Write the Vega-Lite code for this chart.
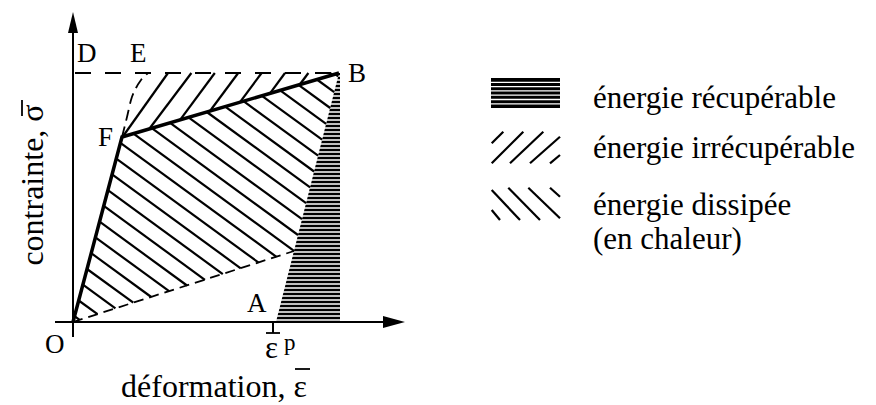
{
  "$schema": "https://vega.github.io/schema/vega-lite/v6.json",
  "width": 876,
  "height": 405,
  "autosize": {"type": "none"},
  "padding": 0,
  "background": "white",
  "config": {"view": {"stroke": null}, "text": {"font": "Liberation Serif", "color": "black"}},
  "datasets": {
    "r1": [{"v": 0, "u": 203, "u2": 267}, {"v": 249, "u": 266, "u2": 267}],
    "sw1": [{"u": 418, "u2": 487, "v": 214, "v2": 244}],
    "stripes": [{"v":2,"u":200,"u2":268},{"v":6,"u":200,"u2":268},{"v":10,"u":200,"u2":268},{"v":14,"u":200,"u2":268},{"v":18,"u":200,"u2":268},{"v":22,"u":200,"u2":268},{"v":26,"u":200,"u2":268},{"v":30,"u":200,"u2":268},{"v":34,"u":200,"u2":268},{"v":38,"u":200,"u2":268},{"v":42,"u":200,"u2":268},{"v":46,"u":200,"u2":268},{"v":50,"u":200,"u2":268},{"v":54,"u":200,"u2":268},{"v":58,"u":200,"u2":268},{"v":62,"u":200,"u2":268},{"v":66,"u":200,"u2":268},{"v":70,"u":200,"u2":268},{"v":74,"u":200,"u2":268},{"v":78,"u":200,"u2":268},{"v":82,"u":200,"u2":268},{"v":86,"u":200,"u2":268},{"v":90,"u":200,"u2":268},{"v":94,"u":200,"u2":268},{"v":98,"u":200,"u2":268},{"v":102,"u":200,"u2":268},{"v":106,"u":200,"u2":268},{"v":110,"u":200,"u2":268},{"v":114,"u":200,"u2":268},{"v":118,"u":200,"u2":268},{"v":122,"u":200,"u2":268},{"v":126,"u":200,"u2":268},{"v":130,"u":200,"u2":268},{"v":134,"u":200,"u2":268},{"v":138,"u":200,"u2":268},{"v":142,"u":200,"u2":268},{"v":146,"u":200,"u2":268},{"v":150,"u":200,"u2":268},{"v":154,"u":200,"u2":268},{"v":158,"u":200,"u2":268},{"v":162,"u":200,"u2":268},{"v":166,"u":200,"u2":268},{"v":170,"u":200,"u2":268},{"v":174,"u":200,"u2":268},{"v":178,"u":200,"u2":268},{"v":182,"u":200,"u2":268},{"v":186,"u":200,"u2":268},{"v":190,"u":200,"u2":268},{"v":194,"u":200,"u2":268},{"v":198,"u":200,"u2":268},{"v":202,"u":200,"u2":268},{"v":206,"u":200,"u2":268},{"v":210,"u":200,"u2":268},{"v":214,"u":200,"u2":268},{"v":218,"u":200,"u2":268},{"v":222,"u":200,"u2":268},{"v":226,"u":200,"u2":268},{"v":230,"u":200,"u2":268},{"v":234,"u":200,"u2":268},{"v":238,"u":200,"u2":268},{"v":242,"u":200,"u2":268},{"v":246,"u":200,"u2":268},
      {"v":239.7,"u":417,"u2":488},{"v":235.4,"u":417,"u2":488},{"v":231.1,"u":417,"u2":488},{"v":226.8,"u":417,"u2":488},{"v":222.5,"u":417,"u2":488},{"v":218.2,"u":417,"u2":488}],
    "hatch": [
      {"u":262.2,"v":247.9,"u2":265.2,"v2":245.7},
      {"u":243.9,"v":242.5,"u2":261.2,"v2":229.9},
      {"u":225.5,"v":237.1,"u2":257.2,"v2":214.0},
      {"u":207.2,"v":231.7,"u2":253.1,"v2":198.1},
      {"u":188.9,"v":226.2,"u2":249.1,"v2":182.3},
      {"u":170.5,"v":220.8,"u2":245.1,"v2":166.4},
      {"u":152.2,"v":215.4,"u2":241.1,"v2":150.5},
      {"u":133.8,"v":210.0,"u2":237.1,"v2":134.6},
      {"u":115.5,"v":204.6,"u2":233.1,"v2":118.8},
      {"u":97.1,"v":199.2,"u2":229.0,"v2":102.9},
      {"u":78.8,"v":193.8,"u2":225.0,"v2":87.0},
      {"u":60.5,"v":188.4,"u2":221.0,"v2":71.2},
      {"u":47.4,"v":179.1,"u2":203.5,"v2":65.1},
      {"u":43.3,"v":163.3,"u2":185.6,"v2":59.4},
      {"u":39.1,"v":147.6,"u2":167.7,"v2":53.7},
      {"u":34.9,"v":131.8,"u2":149.8,"v2":47.9},
      {"u":30.8,"v":116.1,"u2":131.9,"v2":42.2},
      {"u":26.6,"v":100.3,"u2":114.0,"v2":36.5},
      {"u":22.4,"v":84.6,"u2":96.1,"v2":30.8},
      {"u":18.2,"v":68.8,"u2":78.2,"v2":25.0},
      {"u":14.0,"v":53.0,"u2":60.3,"v2":19.3},
      {"u":9.9,"v":37.3,"u2":42.4,"v2":13.6},
      {"u":5.7,"v":21.5,"u2":24.5,"v2":7.8},
      {"u":1.5,"v":5.8,"u2":6.6,"v2":2.1},
      {"u":49.5,"v":185,"u2":95,"v2":249},
      {"u":76.2,"v":193,"u2":118.4,"v2":249},
      {"u":107.1,"v":202.1,"u2":141.8,"v2":249},
      {"u":137,"v":211,"u2":165.2,"v2":249},
      {"u":167,"v":219.8,"u2":188.6,"v2":249},
      {"u":197,"v":228.7,"u2":212,"v2":249},
      {"u":226.8,"v":237.5,"u2":235.4,"v2":249},
      {"u":256.7,"v":246.4,"u2":258.8,"v2":249},
      {"u":418.7,"v":178.7,"u2":430.3,"v2":190.3},
      {"u":418.7,"v":158.7,"u2":450.3,"v2":190.3},
      {"u":437,"v":158.7,"u2":470.3,"v2":190.3},
      {"u":457,"v":158.7,"u2":487,"v2":185.3},
      {"u":477,"v":158.7,"u2":487,"v2":167},
      {"u":418.7,"v":112,"u2":427,"v2":102},
      {"u":418.7,"v":132,"u2":447,"v2":102},
      {"u":435.3,"v":134.3,"u2":467,"v2":102},
      {"u":455.3,"v":134.3,"u2":487,"v2":103.7},
      {"u":477,"v":134.3,"u2":487,"v2":125.3}
    ],
    "dashTop": [{"u": 2, "v": 249}, {"u": 266, "v": 249}],
    "dashCurve": [{"u": 49, "v": 185}, {"u": 54, "v": 205}, {"u": 58, "v": 222}, {"u": 63, "v": 234}, {"u": 68, "v": 242}, {"u": 75, "v": 249}],
    "dashLow": [{"u": 0, "v": 0}, {"u": 221, "v": 71}],
    "solid": [{"u": 0, "v": 0}, {"u": 49, "v": 185}, {"u": 266, "v": 249}],
    "axes": [
      {"u": -18, "v": 0, "u2": 315, "v2": 0},
      {"u": 0, "v": -15, "u2": 0, "v2": 295},
      {"u": 200, "v": 0, "u2": 200, "v2": -11}
    ],
    "bars": [
      {"u": 193, "v": -11, "u2": 207, "v2": -11},
      {"u": 222, "v": -47, "u2": 237, "v2": -47},
      {"u": -51, "v": 222, "u2": -51, "v2": 206}
    ],
    "arrowX": [{"u": 310, "v": -6, "v2": 6}, {"u": 332, "v": 0, "v2": 0}],
    "arrowY": [{"v": 289, "u": -5, "u2": 5}, {"v": 310, "u": 0, "u2": 0}],
    "labels": [
      {"u": 4, "v": 260, "t": "D", "s": 27},
      {"u": 57, "v": 260, "t": "E", "s": 27},
      {"u": 275, "v": 240, "t": "B", "s": 27},
      {"u": 25, "v": 176, "t": "F", "s": 27},
      {"u": -28, "v": -31, "t": "O", "s": 27},
      {"u": 174, "v": 10, "t": "A", "s": 27},
      {"u": 192, "v": -36, "t": "ε", "s": 31},
      {"u": 211, "v": -28, "t": "p", "s": 23},
      {"u": 520, "v": 214, "t": "énergie récupérable", "s": 31},
      {"u": 520, "v": 164, "t": "énergie irrécupérable", "s": 31},
      {"u": 520, "v": 107, "t": "énergie dissipée", "s": 31},
      {"u": 520, "v": 73, "t": "(en chaleur)", "s": 31}
    ],
    "xtitle": [{"u": 141, "v": -75, "t": "déformation, ε"}],
    "ytitle": [{"u": -30, "v": 137, "t": "contrainte, σ"}]
  },
  "encoding": {
    "x": {"field": "u", "type": "quantitative", "scale": {"domain": [-73, 803], "nice": false, "zero": false}, "axis": null},
    "y": {"field": "v", "type": "quantitative", "scale": {"domain": [-83, 322], "nice": false, "zero": false}, "axis": null}
  },
  "layer": [
    {"data": {"name": "r1"}, "mark": {"type": "area", "orient": "horizontal", "color": "black"}, "encoding": {"x2": {"field": "u2"}}},
    {"data": {"name": "sw1"}, "mark": {"type": "rect", "color": "black"}, "encoding": {"x2": {"field": "u2"}, "y2": {"field": "v2"}}},
    {"data": {"name": "stripes"}, "mark": {"type": "rule", "color": "white", "strokeWidth": 1.3}, "encoding": {"x2": {"field": "u2"}, "y2": {"field": "v"}}},
    {"data": {"name": "hatch"}, "mark": {"type": "rule", "color": "black", "strokeWidth": 2.2}, "encoding": {"x2": {"field": "u2"}, "y2": {"field": "v2"}}},
    {"data": {"name": "dashTop"}, "mark": {"type": "line", "color": "black", "strokeWidth": 2, "strokeDash": [16, 14]}, "encoding": {}},
    {"data": {"name": "dashCurve"}, "mark": {"type": "line", "color": "black", "strokeWidth": 1.8, "strokeDash": [11, 6], "interpolate": "monotone"}, "encoding": {}},
    {"data": {"name": "dashLow"}, "mark": {"type": "line", "color": "black", "strokeWidth": 1.8, "strokeDash": [10, 6]}, "encoding": {}},
    {"data": {"name": "solid"}, "mark": {"type": "line", "color": "black", "strokeWidth": 3.5, "strokeJoin": "miter"}, "encoding": {}},
    {"data": {"name": "axes"}, "mark": {"type": "rule", "color": "black", "strokeWidth": 2}, "encoding": {"x2": {"field": "u2"}, "y2": {"field": "v2"}}},
    {"data": {"name": "bars"}, "mark": {"type": "rule", "color": "black", "strokeWidth": 1.8}, "encoding": {"x2": {"field": "u2"}, "y2": {"field": "v2"}}},
    {"data": {"name": "arrowX"}, "mark": {"type": "area", "orient": "vertical", "color": "black"}, "encoding": {"y2": {"field": "v2"}}},
    {"data": {"name": "arrowY"}, "mark": {"type": "area", "orient": "horizontal", "color": "black"}, "encoding": {"x2": {"field": "u2"}}},
    {"data": {"name": "labels"}, "mark": {"type": "text", "align": "left", "baseline": "alphabetic", "font": "Liberation Serif"}, "encoding": {"text": {"field": "t"}, "size": {"field": "s", "type": "quantitative", "scale": null}}},
    {"data": {"name": "xtitle"}, "mark": {"type": "text", "align": "center", "baseline": "alphabetic", "fontSize": 32, "font": "Liberation Serif"}, "encoding": {"text": {"field": "t"}}},
    {"data": {"name": "ytitle"}, "mark": {"type": "text", "align": "center", "baseline": "alphabetic", "fontSize": 32, "angle": 270, "font": "Liberation Serif"}, "encoding": {"text": {"field": "t"}}}
  ]
}
